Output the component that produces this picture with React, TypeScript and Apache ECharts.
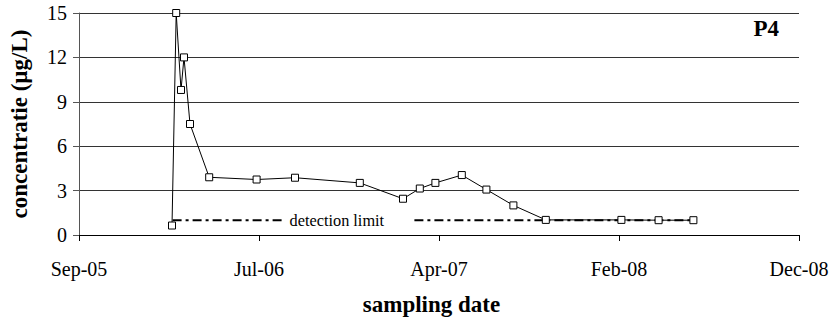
import React, { useEffect, useRef } from "react";
import * as echarts from "echarts";

const FONT = "Liberation Serif";

// Sampling dates and concentrations (µg/L)
const sampleDates = [
  "2006-02-07", "2006-02-14", "2006-02-22", "2006-02-27", "2006-03-09",
  "2006-04-10", "2006-06-28", "2006-08-31", "2006-12-17", "2007-02-27",
  "2007-03-27", "2007-04-22", "2007-06-05", "2007-07-16", "2007-08-30",
  "2007-10-23", "2008-02-26", "2008-04-28", "2008-06-25",
];
const concentrations = [
  0.64, 15.0, 9.8, 12.0, 7.5,
  3.9, 3.75, 3.87, 3.52, 2.45,
  3.14, 3.52, 4.05, 3.07, 2.0,
  1.02, 1.02, 1.0, 1.0,
];

// Detection limit segments
const detectionLimitValue = 1;
const detectionSeg1 = ["2006-02-08", "2006-08-12"];
const detectionSeg2 = ["2007-03-18", "2008-06-25"];

// Axis settings (Excel-style date axis: 300-day steps)
const axisStartDate = "2005-09-05";
const axisSpanDays = 1200;
const axisStepDays = 300;
const yTicks = [0, 3, 6, 9, 12, 15];
const monthNames = ["Jan", "Feb", "Mar", "Apr", "May", "Jun", "Jul", "Aug", "Sep", "Oct", "Nov", "Dec"];

const START = Date.parse(axisStartDate);
const toOffset = (s: string) => (Date.parse(s) - START) / 86400000;
const fmt = (v: number) => {
  const d = new Date(START + v * 86400000);
  return `${monthNames[d.getUTCMonth()]}-${String(d.getUTCFullYear() % 100).padStart(2, "0")}`;
};

export default function App() {
  const ref = useRef<HTMLDivElement>(null);
  useEffect(() => {
    document.body.style.margin = "0";
    if (!ref.current) return;
    const chart = echarts.init(ref.current, undefined, { renderer: "svg" });
    const mainData = sampleDates.map((d, i) => [toOffset(d), concentrations[i]]);
    const dl1 = [
      [toOffset(detectionSeg1[0]), detectionLimitValue],
      {
        value: [toOffset(detectionSeg1[1]), detectionLimitValue],
        label: {
          show: true,
          position: "right",
          distance: 6,
          formatter: "detection limit",
          color: "#000",
          fontFamily: FONT,
          fontSize: 16.3,
        },
      },
    ];
    const dl2 = detectionSeg2.map((d) => [toOffset(d), detectionLimitValue]);
    const dashStyle = { color: "#000", width: 2, type: [9, 4, 3, 4] as any };
    chart.setOption({
      animation: false,
      textStyle: { fontFamily: FONT },
      grid: { left: 78, right: 34, top: 13, bottom: 84.5, containLabel: false },
      xAxis: {
        type: "value",
        min: 0,
        max: axisSpanDays,
        interval: axisStepDays,
        name: "sampling date",
        nameLocation: "middle",
        nameGap: 58,
        nameTextStyle: { fontFamily: FONT, fontSize: 23, fontWeight: "bold", color: "#000", padding: [0, 15, 0, 0] },
        axisLine: { show: true, lineStyle: { color: "#000", width: 1 } },
        axisTick: { show: true, inside: false, length: 6, lineStyle: { color: "#000" } },
        axisLabel: { formatter: (v: number) => fmt(v), fontFamily: FONT, fontSize: 20, color: "#000", margin: 24 },
        splitLine: { show: false },
      },
      yAxis: {
        type: "value",
        min: yTicks[0],
        max: yTicks[yTicks.length - 1],
        interval: 3,
        name: "concentratie (µg/L)",
        nameLocation: "middle",
        nameGap: 48,
        nameTextStyle: { fontFamily: FONT, fontSize: 23, fontWeight: "bold", color: "#000" },
        axisLine: { show: true, lineStyle: { color: "#555", width: 1 } },
        axisTick: { show: true, inside: false, length: 6, lineStyle: { color: "#555" } },
        axisLabel: { fontFamily: FONT, fontSize: 20, color: "#000", margin: 12 },
        splitLine: { show: true, lineStyle: { color: "#333", width: 1 } },
      },
      series: [
        {
          type: "line",
          data: dl1,
          symbol: "circle",
          symbolSize: 0,
          showSymbol: true,
          lineStyle: dashStyle,
          itemStyle: { color: "#000" },
          z: 2,
          silent: true,
        },
        {
          type: "line",
          data: dl2,
          showSymbol: false,
          lineStyle: dashStyle,
          z: 2,
          silent: true,
        },
        {
          type: "line",
          data: mainData,
          symbol: "rect",
          symbolSize: 7,
          showSymbol: true,
          lineStyle: { color: "#000", width: 1 },
          itemStyle: { color: "#fff", borderColor: "#000", borderWidth: 1 },
          z: 5,
        },
      ],
      graphic: [
        {
          type: "text",
          right: 54,
          top: 17,
          style: { text: "P4", fontFamily: FONT, fontSize: 23, fontWeight: "bold", fill: "#000" },
        },
      ],
    });
    return () => chart.dispose();
  }, []);
  return <div ref={ref} style={{ width: 833, height: 321 }} />;
}
